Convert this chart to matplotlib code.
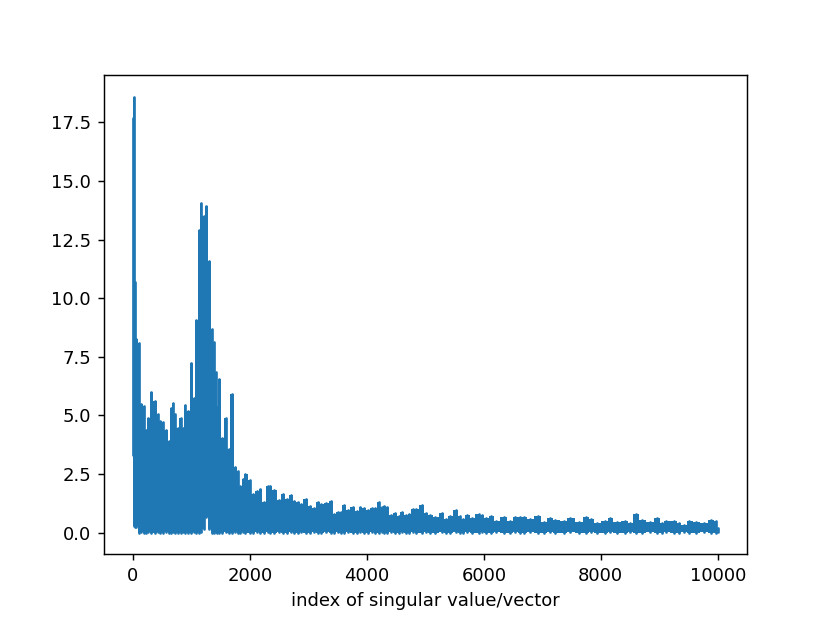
import matplotlib
matplotlib.use("Agg")
import matplotlib.pyplot as plt

# peaks (index, top of the spike)
peak_idx = [0, 14, 35, 60, 111, 145, 185, 219, 265, 316, 379, 430, 470, 510, 567,
            618, 658, 687, 715, 766, 823, 852, 886, 937, 1000, 1040, 1086, 1131,
            1165, 1211, 1251, 1302, 1354, 1382, 1411, 1439, 1479, 1525, 1587, 1638,
            1696, 1753, 1792, 1838, 1878, 1923, 1998, 2055, 2123, 2180, 2237, 2305,
            2351, 2419, 2493, 2568, 2636, 2704, 2761, 2824, 2875, 2955, 3024, 3103,
            3160, 3223, 3309, 3388, 3445, 3502, 3559, 3605, 3673, 3765, 3833, 3890,
            3958, 4015, 4090, 4147, 4204, 4261, 4300, 4352, 4414, 4477, 4546, 4597,
            4671, 4728, 4791, 4848, 4945, 5019, 5087, 5172, 5281, 5361, 5429, 5520,
            5589, 5646, 5714, 5800, 5914, 5970, 6045, 6130, 6216, 6341, 6455, 6540,
            6615, 6694, 6797, 6922, 7025, 7128, 7225, 7367, 7481, 7624, 7755, 7834,
            7937, 8080, 8154, 8279, 8422, 8507, 8610, 8707, 8849, 8963, 9049, 9123,
            9260, 9333, 9419, 9516, 9636, 9761, 9892, 9978, 10000]
peak_val = [17.7, 18.6, 10.7, 8.25, 8.1, 5.5, 5.4, 4.4, 4.9, 6.0, 5.6, 5.05, 4.75, 4.7, 4.4,
            3.9, 5.3, 5.55, 5.05, 4.45, 4.9, 4.45, 5.45, 5.2, 7.25, 5.75, 9.05, 12.93,
            14.08, 13.5, 13.95, 11.6, 8.68, 8.13, 6.85, 5.35, 6.55, 4.05, 4.87, 3.57,
            5.9, 2.78, 2.63, 2.0, 2.3, 2.52, 2.24, 1.65, 1.76, 1.86, 1.29, 1.97,
            2.0, 1.81, 1.39, 1.63, 1.43, 1.6, 1.36, 1.29, 1.22, 1.42, 1.13, 1.05,
            1.32, 1.22, 1.26, 1.33, 0.79, 0.89, 0.87, 1.19, 0.98, 1.08, 0.94, 1.11,
            1.06, 0.96, 1.06, 1.04, 1.29, 1.11, 1.14, 1.08, 0.75, 0.84, 0.72, 0.87,
            0.77, 0.79, 1.02, 1.0, 1.19, 0.84, 0.77, 0.65, 0.85, 0.59, 0.72, 0.96,
            0.69, 0.58, 0.77, 0.61, 0.79, 0.75, 0.62, 0.72, 0.51, 0.65, 0.51, 0.65,
            0.68, 0.68, 0.57, 0.72, 0.47, 0.64, 0.54, 0.48, 0.64, 0.47, 0.65, 0.58,
            0.42, 0.51, 0.61, 0.44, 0.51, 0.42, 0.78, 0.54, 0.44, 0.64, 0.40, 0.51,
            0.51, 0.40, 0.34, 0.51, 0.47, 0.40, 0.54, 0.48, 0.2]
# lowest value of the band under each peak
low_val = [3.3, 0.3, 0.25, 0.25, 0.0, 0.02, 0.0, 0.0, 0.02, 0.0, 0.0, 0.02, 0.0, 0.0, 0.02,
           0.0, 0.0, 0.02, 0.0, 0.0, 0.0, 0.02, 0.0, 0.0, 0.0, 0.02, 0.0, 0.0,
           0.02, 0.15, 0.65, 0.15, 0.0, 0.0, 0.02, 0.0, 0.0, 0.0, 0.02, 0.0,
           0.0, 0.02, 0.0, 0.0, 0.02, 0.0, 0.0, 0.0, 0.02, 0.0, 0.0, 0.02,
           0.0, 0.0, 0.02, 0.0, 0.0, 0.02, 0.0, 0.0, 0.02, 0.0, 0.0, 0.02,
           0.0, 0.0, 0.02, 0.0, 0.0, 0.02, 0.0, 0.0, 0.02, 0.0, 0.0, 0.02,
           0.0, 0.0, 0.02, 0.0, 0.0, 0.02, 0.0, 0.0, 0.02, 0.0, 0.0, 0.02,
           0.0, 0.0, 0.02, 0.0, 0.0, 0.02, 0.0, 0.0, 0.02, 0.0, 0.0, 0.02,
           0.0, 0.0, 0.02, 0.0, 0.0, 0.02, 0.0, 0.0, 0.02, 0.0, 0.0, 0.02,
           0.0, 0.0, 0.02, 0.0, 0.0, 0.02, 0.0, 0.0, 0.02, 0.0, 0.0, 0.02,
           0.0, 0.0, 0.02, 0.0, 0.0, 0.02, 0.0, 0.0, 0.02, 0.0, 0.0, 0.02,
           0.0, 0.0, 0.02, 0.0, 0.0, 0.02, 0.0, 0.0, 0.02]

line_color = "#1f77b4"

fig, ax = plt.subplots(figsize=(830 / 130, 623 / 130), dpi=130)

# the original is one very dense line, so draw the band and its spikes
ax.fill_between(peak_idx, low_val, peak_val, step="mid", color=line_color, lw=0)
ax.vlines(peak_idx, low_val, peak_val, color=line_color, lw=1.5, capstyle="round")

ax.set_xlabel("index of singular value/vector")

fig.savefig("out.png")
